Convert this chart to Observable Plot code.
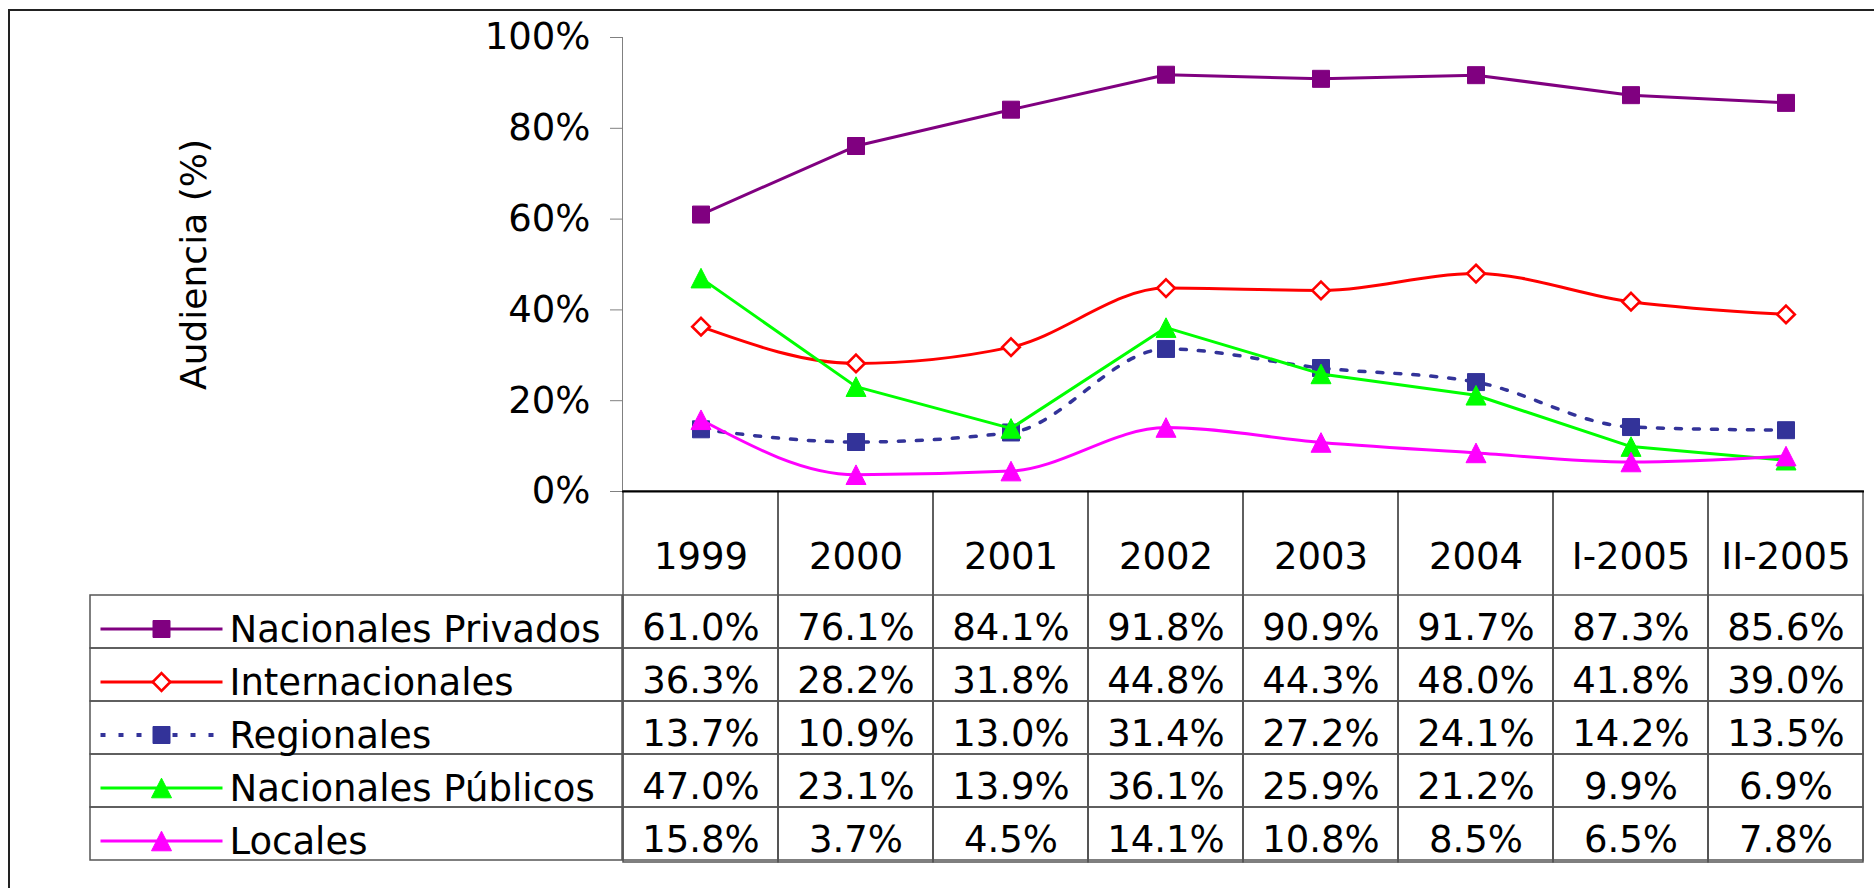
<!DOCTYPE html>
<html>
<head>
<meta charset="utf-8">
<script src="https://cdn.jsdelivr.net/npm/d3@7"></script>
<script src="https://cdn.jsdelivr.net/npm/@observablehq/plot@0.6"></script>
<style>
  html, body { margin: 0; padding: 0; background: #fff; }
  #wrap { position: relative; width: 1874px; height: 888px; overflow: hidden; background: #fff; }
  #border { position: absolute; left: 8px; top: 9px; width: 3000px; height: 3000px;
            border-top: 2px solid #222; border-left: 2px solid #222; }
  #wrap svg text { fill: #000; }
  #wrap svg [aria-label^="y-axis"] { font-size: 37px; }
</style>
</head>
<body>
<div id="wrap"><div id="border"></div></div>
<script>
// ---- data ----
const categories = ["1999", "2000", "2001", "2002", "2003", "2004", "I-2005", "II-2005"];
const seriesNames = ["Nacionales Privados", "Internacionales", "Regionales", "Nacionales Públicos", "Locales"];
const nacionalesPrivados = [61.0, 76.1, 84.1, 91.8, 90.9, 91.7, 87.3, 85.6];
const internacionales    = [36.3, 28.2, 31.8, 44.8, 44.3, 48.0, 41.8, 39.0];
const regionales         = [13.7, 10.9, 13.0, 31.4, 27.2, 24.1, 14.2, 13.5];
const nacionalesPublicos = [47.0, 23.1, 13.9, 36.1, 25.9, 21.2, 9.9, 6.9];
const locales            = [15.8, 3.7, 4.5, 14.1, 10.8, 8.5, 6.5, 7.8];
const yTicks = [0, 20, 40, 60, 80, 100];
const yTitle = "Audiencia (%)";

// ---- styles ----
const seriesColors = ["#800080", "#FF0000", "#333399", "#00FF00", "#FF00FF"];
const seriesCurves = ["linear", "monotone-x", "monotone-x", "linear", "monotone-x"];
const seriesDash = [null, null, "6,12", null, null];
const legendDash = [null, null, "5,13", null, null];
const lineWidths = [3, 3, 3.5, 3, 3];

const squareSym = {draw(c) { c.moveTo(-8.5, -8.5); c.lineTo(8.5, -8.5); c.lineTo(8.5, 8.5); c.lineTo(-8.5, 8.5); c.closePath(); }};
const diamondSym = {draw(c) { c.moveTo(0, -8.8); c.lineTo(8.8, 0); c.lineTo(0, 8.8); c.lineTo(-8.8, 0); c.closePath(); }};
const triangleSym = {draw(c) { c.moveTo(0, -9.8); c.lineTo(10, 9.8); c.lineTo(-10, 9.8); c.closePath(); }};
const keyLineSym = {draw(c) { c.moveTo(-61, 0); c.lineTo(61, 0); }};
const markerSyms = [squareSym, diamondSym, squareSym, triangleSym, triangleSym];
const markerFills = [seriesColors[0], "#FFFFFF", seriesColors[2], seriesColors[3], seriesColors[4]];
const markerStrokeW = [1, 2.6, 1, 1, 1];

const font = "'DejaVu Sans', Verdana, sans-serif";

// ---- derived tables ----
const seriesValues = [nacionalesPrivados, internacionales, regionales, nacionalesPublicos, locales];
const rows = seriesNames.map((name, s) => ({
  name,
  points: categories.map((cat, i) => ({cat, name, value: seriesValues[s][i]}))
}));
const tableData = rows.flatMap(r => r.points);

// ---- chart ----
const chartMarks = [Plot.ruleY([0], {stroke: "#000", strokeWidth: 2})];
rows.forEach((r, s) => {
  chartMarks.push(Plot.line(r.points, {
    x: "cat", y: "value", stroke: seriesColors[s], strokeWidth: lineWidths[s],
    curve: seriesCurves[s], strokeDasharray: seriesDash[s] || undefined
  }));
  chartMarks.push(Plot.dot(r.points, {
    x: "cat", y: "value", symbol: markerSyms[s], fill: markerFills[s],
    stroke: seriesColors[s], strokeWidth: markerStrokeW[s]
  }));
});
chartMarks.push(Plot.text([yTitle], {
  text: d => d, frameAnchor: "left", textAnchor: "middle", dx: -428, rotate: -90, fontSize: 36, fill: "#000"
}));

const chart = Plot.plot({
  width: 1874, height: 500,
  marginLeft: 622, marginRight: 10, marginTop: 37, marginBottom: 9,
  style: {background: "transparent", fontFamily: font, fontSize: "37px", color: "#808080",
          overflow: "visible", position: "absolute", left: "0px", top: "0px"},
  x: {type: "band", domain: categories, padding: 0, axis: null},
  y: {domain: [0, 100], ticks: yTicks, tickFormat: d => d + "%", tickSize: 12, tickPadding: 20,
      line: true, label: null},
  marks: chartMarks
});

// ---- data table ----
const table = Plot.plot({
  width: 1874, height: 380,
  marginLeft: 622, marginRight: 10, marginTop: 0, marginBottom: 9,
  style: {background: "transparent", fontFamily: font, fontSize: "37px",
          overflow: "visible", position: "absolute", left: "0px", top: "491px"},
  x: {type: "band", domain: categories, padding: 0, axis: null},
  y: {type: "band", domain: seriesNames, range: [102, 371], padding: 0, axis: null},
  marks: [
    Plot.cell(categories, {x: d => d, fill: "none", stroke: "#555", strokeWidth: 1.5}),
    Plot.cell(tableData, {x: "cat", y: "name", fill: "none", stroke: "#555", strokeWidth: 1.5}),
    Plot.text(categories, {x: d => d, frameAnchor: "top", dy: 51, text: d => d, fontSize: 37, fill: "#000"}),
    Plot.text(tableData, {x: "cat", y: "name", text: d => d.value.toFixed(1) + "%", dy: 6, fontSize: 37, fill: "#000"})
  ]
});

// ---- legend column of the table ----
const legendMarks = [Plot.cell(seriesNames, {y: d => d, fill: "none", stroke: "#555", strokeWidth: 1.5})];
seriesNames.forEach((name, s) => {
  legendMarks.push(Plot.dot([name], {
    y: d => d, frameAnchor: "left", dx: 71, dy: 7, symbol: keyLineSym, fill: "none",
    stroke: seriesColors[s], strokeWidth: s === 2 ? 4 : 3, strokeDasharray: legendDash[s] || undefined
  }));
  legendMarks.push(Plot.dot([name], {
    y: d => d, frameAnchor: "left", dx: 71, dy: 7, symbol: markerSyms[s], fill: markerFills[s],
    stroke: seriesColors[s], strokeWidth: markerStrokeW[s]
  }));
});
legendMarks.push(Plot.text(seriesNames, {
  y: d => d, frameAnchor: "left", dx: 139, dy: 8, textAnchor: "start", text: d => d, fontSize: 37, fill: "#000"
}));
const legend = Plot.plot({
  width: 632, height: 380,
  marginLeft: 90, marginRight: 10, marginTop: 0, marginBottom: 9,
  style: {background: "transparent", fontFamily: font, fontSize: "37px",
          overflow: "visible", position: "absolute", left: "0px", top: "491px"},
  y: {type: "band", domain: seriesNames, range: [102, 371], padding: 0, axis: null},
  marks: legendMarks
});

const wrap = document.getElementById("wrap");
wrap.appendChild(table);
wrap.appendChild(legend);
wrap.appendChild(chart);
</script>
</body>
</html>
